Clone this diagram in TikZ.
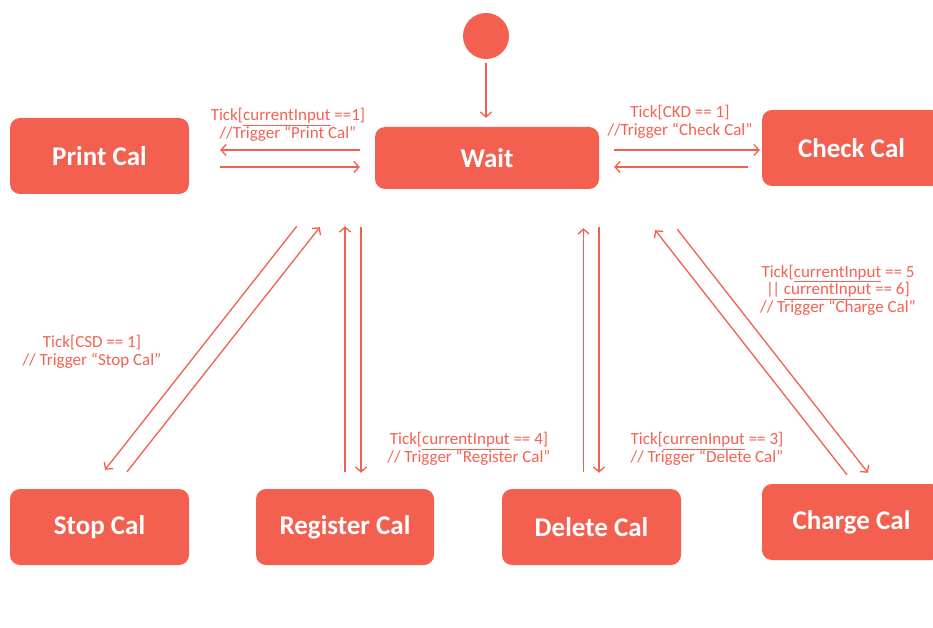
\documentclass[tikz,border=0pt]{standalone}
\usepackage{fontspec}
\setmainfont{Carlito}
\usetikzlibrary{arrows.meta}
\definecolor{coral}{RGB}{243,96,80}
\definecolor{coraltext}{RGB}{244,98,82}
\newcommand{\spelled}[1]{\underline{#1}}
\newcommand{\oror}{|\kern-1.8pt|}
\tikzset{
  state/.style={rectangle, rounded corners=10pt, fill=coral, draw=none,
    minimum width=179pt, minimum height=76pt, inner sep=0pt,
    text=white, font=\fontsize{27}{31}\selectfont\bfseries},
  guard/.style={text=coraltext, align=center, inner sep=0pt,
    font=\fontsize{17}{17.5}\selectfont},
  flow/.style={draw=coral, line width=1.3pt,
    -{Straight Barb[length=5pt,width=11pt,line width=1.3pt]}}
}
\begin{document}
\begin{tikzpicture}[x=1pt,y=-1pt]
\clip (0,0) rectangle (933,628);
\fill[white] (0,0) rectangle (933,628);

% initial pseudo-state
\node[circle, fill=coral, minimum size=46pt, inner sep=0pt] (init) at (486,36) {};

% states
\node[state, minimum width=224pt, minimum height=62pt] (wait) at (487,158) {Wait};
\node[state] (print)    at (99.5,156)  {Print Cal};
\node[state] (check)    at (851.5,148) {Check Cal};
\node[state] (stop)     at (99.5,527)  {Stop Cal};
\node[state, minimum width=178pt] (register) at (345,527) {Register Cal};
\node[state] (delete)   at (591.5,527) {Delete Cal};
\node[state] (charge)   at (851.5,522) {Charge Cal};

% entry
\draw[flow] ([shift={(0,4)}]init.south) -- ([shift={(-1,-9)}]wait.north);

% Wait <-> Print Cal
\draw[flow] ([shift={(-15,-8)}]wait.west) -- ([shift={(31,-6)}]print.east);
\draw[flow] ([shift={(31,11)}]print.east) -- ([shift={(-15,9)}]wait.west);

% Wait <-> Check Cal
\draw[flow] ([shift={(15,-8)}]wait.east) -- ([shift={(-2,2)}]check.west);
\draw[flow] ([shift={(-14,19)}]check.west) -- ([shift={(15,9)}]wait.east);

% Wait <-> Stop Cal
\draw[flow] ([shift={(-78,37)}]wait.south west) -- ([shift={(5.5,-19)}]stop.north);
\draw[flow] ([shift={(27.5,-17)}]stop.north) -- ([shift={(-55,38)}]wait.south west);

% Wait <-> Register Cal
\draw[flow] ([shift={(0,-17)}]register.north) -- ([shift={(-142,37)}]wait.south);
\draw[flow] ([shift={(-126,38)}]wait.south) -- ([shift={(16,-16)}]register.north);

% Wait <-> Delete Cal
\draw[flow] ([shift={(-8,-17)}]delete.north) -- ([shift={(96.5,39)}]wait.south);
\draw[flow] ([shift={(112,38)}]wait.south) -- ([shift={(7.5,-16)}]delete.north);

% Wait <-> Charge Cal
\draw[flow] ([shift={(-4.5,-9)}]charge.north) -- ([shift={(56,41)}]wait.south east);
\draw[flow] ([shift={(78,40)}]wait.south east) -- ([shift={(16.5,-11)}]charge.north);

% guards
\node[guard] (gprint) at (288,125) {Tick[\spelled{currentInput} ==1]\\//Trigger “Print Cal”};
\node[guard] (gcheck) at (680,122) {Tick[CKD == 1]\\//Trigger “Check Cal”};
\node[guard] (gstop) at (92,352) {Tick[CSD == 1]\\// Trigger “Stop Cal”};
\node[guard] (greg) at (469,449) {Tick[\spelled{currentInput} == 4]\\// Trigger “Register Cal”};
\node[guard] (gdel) at (707,449) {Tick[\spelled{currenInput} == 3]\\// Trigger “Delete Cal”};
\node[guard] (gcharge) at (838,290) {Tick[\spelled{currentInput} == 5\\\oror{} \spelled{currentInput} == 6]\\// Trigger “Charge Cal”};
\end{tikzpicture}
\end{document}
